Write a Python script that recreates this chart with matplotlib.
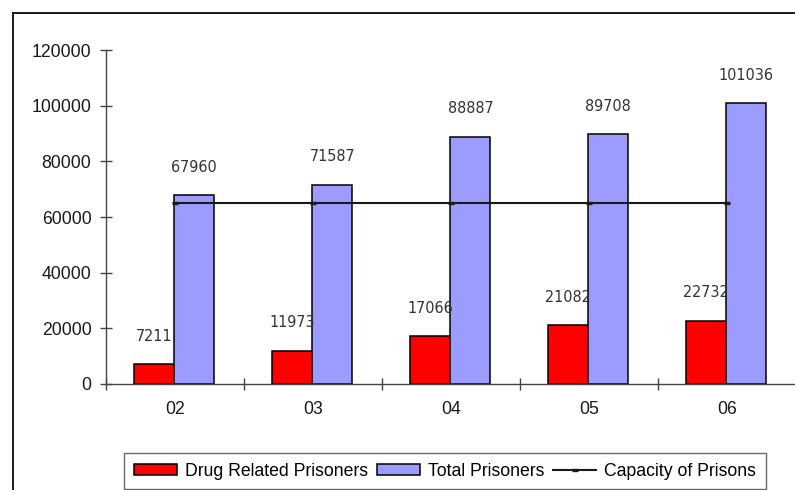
import matplotlib
matplotlib.use("Agg")
import matplotlib.pyplot as plt
from matplotlib.patches import Rectangle
from matplotlib import font_manager
import numpy as np
import os

YEARS = ["02", "03", "04", "05", "06"]
DRUG = [7211, 11973, 17066, 21082, 22732]
TOTAL = [67960, 71587, 88887, 89708, 101036]
CAPACITY = [65000, 65000, 65000, 65000, 65000]

RED = "#ff0000"
BLUE = "#9c9cff"
BARW = 0.29

plt.rcParams["font.family"] = ["Liberation Sans", "DejaVu Sans"]

# the value labels use a narrow sans face; take one if it is installed
WANTED = ["LiberationSansNarrow-Regular", "DejaVuSansCondensed.",
          "RobotoCondensed-Regular", "NotoSans-CondensedRegular",
          "OpenSans_Condensed-Regular", "OpenSansCondensed"]
files = [f.fname for f in font_manager.fontManager.ttflist]
narrow = None
for w in WANTED:
    hits = [p for p in files if w in os.path.basename(p)]
    if hits:
        narrow = hits[0]
        break
if narrow is not None:
    lab_prop = font_manager.FontProperties(fname=narrow, size=11.5)
else:
    lab_prop = font_manager.FontProperties(family="Liberation Sans", size=11)

fig = plt.figure(figsize=(7.95, 4.9), dpi=100)
ax = fig.add_axes([106 / 795, 1 - 384 / 490, 690 / 795, 334 / 490])

xs = np.arange(len(YEARS))
b1 = ax.bar(xs - BARW / 2 - 0.005, DRUG, width=BARW, color=RED, edgecolor="black",
            linewidth=1.1, label="Drug Related Prisoners", zorder=2)
b2 = ax.bar(xs + BARW / 2 - 0.005, TOTAL, width=BARW, color=BLUE, edgecolor="black",
            linewidth=1.1, label="Total Prisoners", zorder=2)
ln, = ax.plot(xs, CAPACITY, color="#1a1a1a", lw=1.5, marker="_", markersize=4,
              markeredgewidth=2.4, label="Capacity of Prisons", zorder=3)

# value labels above the bars
for x, d, t in zip(xs, DRUG, TOTAL):
    ax.annotate(str(d), (x - BARW / 2 - 0.005, d), xytext=(0, 20),
                textcoords="offset points", fontproperties=lab_prop,
                color="#333333", ha="center", va="center")
    ax.annotate(str(t), (x + BARW / 2 - 0.005, t), xytext=(0, 20),
                textcoords="offset points", fontproperties=lab_prop,
                color="#333333", ha="center", va="center")

ax.set_xlim(-0.5, len(YEARS) - 0.5)
ax.set_ylim(0, 120000)
ax.set_yticks(np.arange(0, 120001, 20000))
ax.set_xticks(xs)
ax.set_xticklabels(YEARS)
ax.set_xticks(np.arange(len(YEARS) + 1) - 0.5, minor=True)

for s in ("top", "right"):
    ax.spines[s].set_visible(False)
for s in ("left", "bottom"):
    ax.spines[s].set_color("#444444")
    ax.spines[s].set_linewidth(1.0)

ax.tick_params(axis="y", direction="inout", length=8, width=1, color="#444444",
               labelsize=12.7, pad=6.5, labelcolor="#1a1a1a")
ax.tick_params(axis="x", which="major", length=0, labelsize=12.7, pad=12,
               labelcolor="#1a1a1a")
ax.tick_params(axis="x", which="minor", direction="inout", length=8.5, width=1,
               color="#444444")

# outer chart border (runs off the right and bottom edge)
fig.patches.append(Rectangle((13 / 795, -0.05), 1.0, 1 - 13 / 490 + 0.05,
                             transform=fig.transFigure, fill=False,
                             edgecolor="#1a1a1a", linewidth=1.4))

leg = fig.legend(handles=[b1, b2, ln], loc="upper left",
                 bbox_to_anchor=(124 / 795, 1 - 453 / 490),
                 ncol=3, fontsize=12.7, frameon=True, fancybox=False,
                 handlelength=2.45, handleheight=0.55, handletextpad=0.45,
                 columnspacing=0.5, borderpad=0.55, borderaxespad=0)
leg.get_frame().set_edgecolor("#444444")
leg.get_frame().set_linewidth(1.0)

fig.savefig("out.png", dpi=100)
